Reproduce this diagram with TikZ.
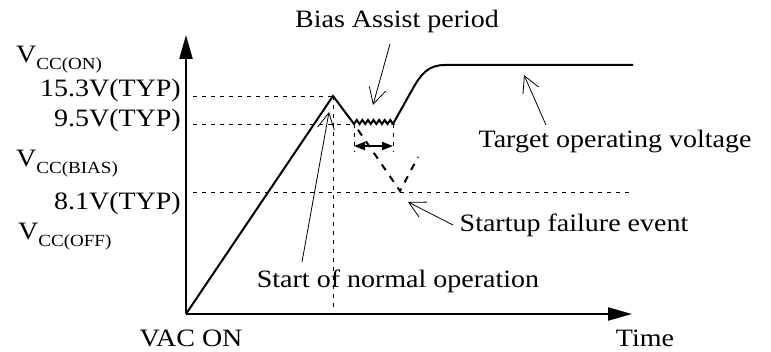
\documentclass[tikz,border=0pt]{standalone}
\usepackage{fontspec}
\setmainfont[FakeStretch=1.12]{Liberation Serif}
\usetikzlibrary{arrows.meta}
\newcommand{\vsub}[1]{V\raisebox{-7pt}{\fontsize{17}{17}\selectfont #1}}
\begin{document}
\begin{tikzpicture}[x=1pt,y=-1pt,
 lbl/.style={inner sep=0pt, font=\fontsize{25}{27}\selectfont},
 axisline/.style={line width=2pt, -{Triangle[length=24pt,width=13pt]}},
 curveline/.style={line width=2pt, line join=miter},
 guide/.style={line width=0.9pt, dash pattern=on 4pt off 5pt},
 failline/.style={line width=2pt, dash pattern=on 7pt off 7pt, dash phase=7pt},
 pointer/.style={line width=0.8pt, -{Straight Barb[length=16pt,width=17pt]}},
 spanarrow/.style={line width=2pt, {Triangle[length=11pt,width=8pt]}-{Triangle[length=11pt,width=8pt]}}]
\useasboundingbox (0,0) rectangle (771,352);
% key points
\coordinate (O) at (186,314);
\coordinate (ytop) at (186,35);
\coordinate (xend) at (632,314);
\coordinate (pk) at (333,96);
\coordinate (za) at (354,124);
\coordinate (zb) at (393,124);
\coordinate (rise) at (412,90);
\coordinate (flat) at (445,65);
\coordinate (flatend) at (633,65);
\coordinate (g15) at (193,96);
\coordinate (g95) at (193,124);
\coordinate (g81a) at (193,192);
\coordinate (g81b) at (633,192);
\coordinate (pkdown) at (333,310);
\coordinate (zadown) at (354,152);
\coordinate (zbdown) at (393,152);
\coordinate (spa) at (354,146);
\coordinate (spb) at (393,146);
\coordinate (vbot) at (400,191);
\coordinate (vtop) at (418,157);
% guides
\draw[guide] (g15) -- (pk);
\draw[guide] (g95) -- (za);
\draw[guide] (g81a) -- (g81b);
\draw[guide] (pk) -- (pkdown);
\draw[guide] (za) -- (zadown);
\draw[guide] (zb) -- (zbdown);
% axes
\draw[axisline] (O) -- (ytop);
\draw[axisline] (O) -- (xend);
% main curve
\draw[curveline] (O) -- (pk) -- (za)
  \foreach \i in {1,...,7} {-- ++(2.79,-4) -- ++(2.79,4)} -- (zb)
  -- (rise) .. controls (421,74) and (428,65) .. (flat) -- (flatend);
% failure path
\draw[failline] (za) -- (vbot) -- (vtop);
% bias assist span
\draw[spanarrow] (spa) -- (spb);
% labels
\node[lbl, anchor=base west] (von) at (16,63) {\vsub{CC(ON)}};
\node[lbl, anchor=base east] (v153) at (181,97) {15.3V(TYP)};
\node[lbl, anchor=base east] (v95) at (181,127) {9.5V(TYP)};
\node[lbl, anchor=base west] (vbias) at (16,167) {\vsub{CC(BIAS)}};
\node[lbl, anchor=base east] (v81) at (181,210) {8.1V(TYP)};
\node[lbl, anchor=base west] (voff) at (18,240) {\vsub{CC(OFF)}};
\node[lbl, anchor=base] (vac) at (191,347) {VAC ON};
\node[lbl, anchor=base] (time) at (645,347) {Time};
\node[lbl, anchor=base] (bias) at (397,28) {Bias Assist period};
\node[lbl, anchor=base] (target) at (615,148) {Target operating voltage};
\node[lbl, anchor=base] (fail) at (574,232) {Startup failure event};
\node[lbl, anchor=base] (start) at (398,288) {Start of normal operation};
% pointers
\coordinate (biasTail) at (390,44);
\coordinate (biasTip) at (373,105);
\coordinate (tgtTail) at (546,125);
\coordinate (tgtTip) at (524,75);
\coordinate (failTail) at (453,225);
\coordinate (failTip) at (408,202);
\coordinate (startTail) at (302,262);
\coordinate (startTip) at (329,112);
\draw[pointer] (biasTail) -- (biasTip);
\draw[pointer] (tgtTail) -- (tgtTip);
\draw[pointer] (failTail) -- (failTip);
\draw[pointer] (startTail) -- (startTip);
\end{tikzpicture}
\end{document}
